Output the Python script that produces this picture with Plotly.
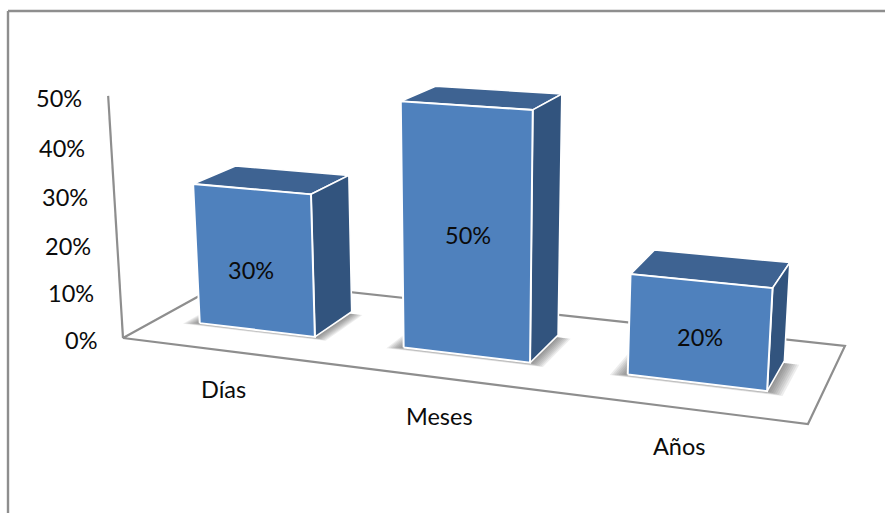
import plotly.graph_objects as go

# Chart content
categories = ["Días", "Meses", "Años"]
values = [30, 50, 20]
axis_ticks = [0, 10, 20, 30, 40, 50]

# Colours and font
FRONT = "#4F81BD"
SIDE = "#32547E"
TOP = "#3E6392"
FRAME = "#8E8E8E"
FONT = "Lato"
FONT_SIZE = 23.5

# Perspective of the box: floor coordinates a (across), d (depth), height v in percent.
FLOOR = dict(a11=572.9, a12=135.1, a13=123.0, a21=27.2, a22=-24.9, a23=338.0, g=-0.1387, h=0.1222)
VANISH_X, VANISH_Y = 470.0, 6000.0
HEIGHT_GAIN = -0.041 / 50
BAR_WIDTH = 0.192
DEPTH_FRONT, DEPTH_BACK = 0.31, 0.71


def project(a, d, v=0.0):
    """Map floor position and height to the drawing plane."""
    f = FLOOR
    k = HEIGHT_GAIN * v
    x = f["a11"] * a + f["a12"] * d + f["a13"] + k * VANISH_X
    y = f["a21"] * a + f["a22"] * d + f["a23"] + k * VANISH_Y
    w = f["g"] * a + f["h"] * d + 1.0 + k
    return x / w, y / w


def path(points):
    xs, ys = zip(*[project(*p) for p in points])
    return list(xs) + [xs[0]], list(ys) + [ys[0]]


def polygon(points, fill, line_color=None, line_width=0):
    xs, ys = path(points)
    return go.Scatter(
        x=xs, y=ys, mode="lines", fill="toself", fillcolor=fill,
        line=dict(color=line_color or fill, width=line_width),
        hoverinfo="skip", showlegend=False,
    )


def stroke(points):
    xs, ys = zip(*[project(*p) for p in points])
    return go.Scatter(
        x=list(xs), y=list(ys), mode="lines",
        line=dict(color=FRAME, width=2.2), hoverinfo="skip", showlegend=False,
    )


fig = go.Figure()

# Floor outline and the vertical value axis
fig.add_trace(stroke([(0, 1), (1, 1), (1, 0), (0, 0), (0, 1)]))
fig.add_trace(stroke([(0, 0, 0), (0, 0, axis_ticks[-1])]))

centres = [(i + 0.5) / len(categories) for i in range(len(categories))]

for centre, value in zip(centres, values):
    left, right = centre - BAR_WIDTH / 2, centre + BAR_WIDTH / 2

    # Soft shadow on the floor, built from nested translucent footprints
    for step in range(8, 0, -1):
        grow_a = 0.0028 * step
        grow_d = 0.0042 * step
        fig.add_trace(polygon([
            (left - grow_a, DEPTH_FRONT - grow_d),
            (right + grow_a, DEPTH_FRONT - grow_d),
            (right + grow_a, DEPTH_BACK - 0.03),
            (left - grow_a, DEPTH_BACK - 0.03),
        ], "rgba(60,60,60,0.095)"))

    # Top, side and front faces
    fig.add_trace(polygon([
        (left, DEPTH_FRONT, value), (right, DEPTH_FRONT, value),
        (right, DEPTH_BACK, value), (left, DEPTH_BACK, value),
    ], TOP, "white", 1.6))
    fig.add_trace(polygon([
        (right, DEPTH_FRONT, 0), (right, DEPTH_BACK, 0),
        (right, DEPTH_BACK, value), (right, DEPTH_FRONT, value),
    ], SIDE, "white", 1.6))
    fig.add_trace(polygon([
        (left, DEPTH_FRONT, 0), (right, DEPTH_FRONT, 0),
        (right, DEPTH_FRONT, value), (left, DEPTH_FRONT, value),
    ], FRONT, "white", 2))

# Outer chart frame (open at the bottom and on the right)
frame_lines = [dict(x0=8, x1=885, y0=11, y1=11), dict(x0=8, x1=8, y0=11, y1=513)]
shapes = [dict(type="line", line=dict(color=FRAME, width=2.4), layer="below", **s) for s in frame_lines]

annotations = []


def label(x, y, text, anchor="center"):
    annotations.append(dict(
        x=x, y=y, text=text, showarrow=False, xanchor=anchor, yanchor="middle",
        font=dict(family=FONT, size=FONT_SIZE, color="#0b0b0b"),
    ))


# Value axis tick labels
for tick in axis_ticks:
    x, y = project(0, 0, tick)
    label(x - 24, y + 2, f"{tick}%", "right")

# Category labels under the floor's front edge
for centre, name in zip(centres, categories):
    x, y = project(centre, 0)
    label(x, y + 38, name)

# Data labels on the front faces
label_shift = [(-3, 10), (2, 2), (2, 5)]
for centre, value, (dx, dy) in zip(centres, values, label_shift):
    x, y = project(centre, DEPTH_FRONT, value / 2)
    label(x + dx, y + dy, f"{value}%")

fig.update_layout(
    width=885, height=513, margin=dict(l=0, r=0, t=0, b=0),
    paper_bgcolor="white", plot_bgcolor="white", showlegend=False,
    xaxis=dict(range=[0, 885], visible=False, fixedrange=True),
    yaxis=dict(range=[513, 0], visible=False, fixedrange=True),
    shapes=shapes, annotations=annotations,
)

fig.write_html("out.html", config=dict(displayModeBar=False))
